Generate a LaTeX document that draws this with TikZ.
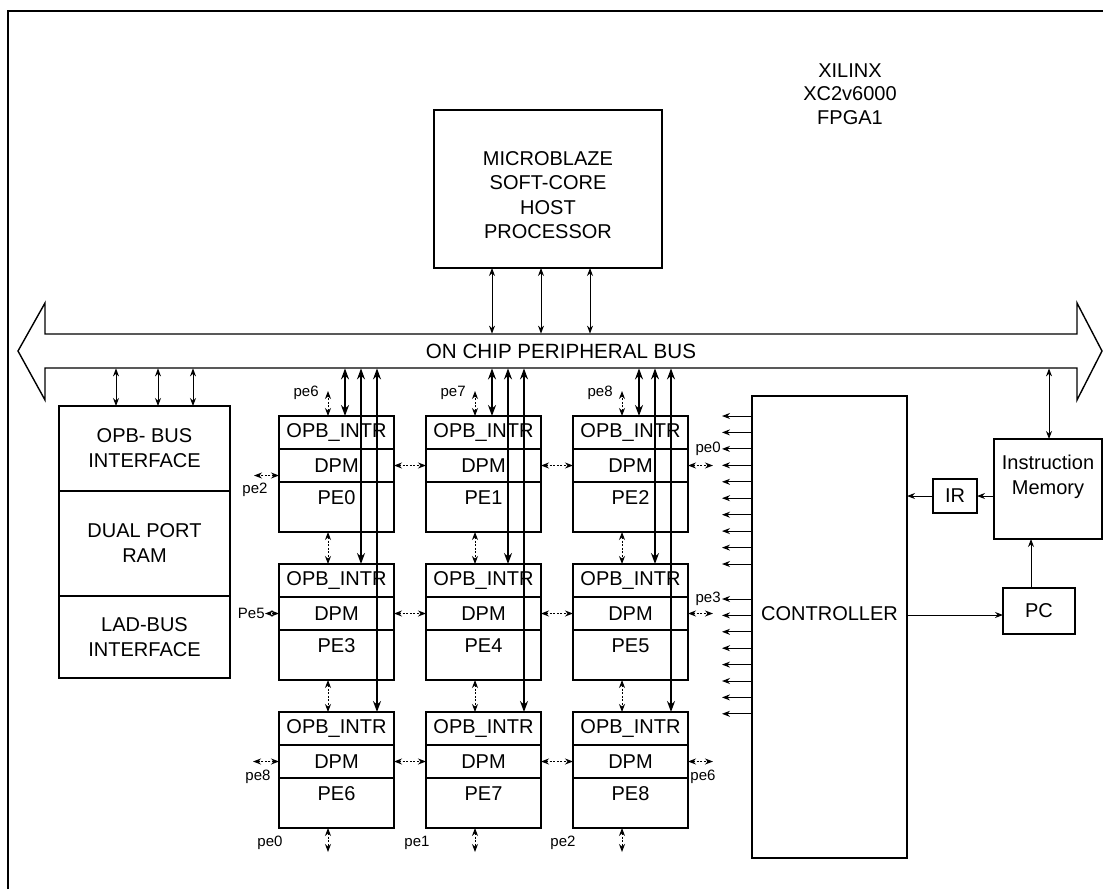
\documentclass[tikz,border=0pt]{standalone}
\usepackage{fontspec}
\setmainfont{Liberation Sans}
\usetikzlibrary{arrows.meta}
\tikzset{
  stt/.tip={Stealth[length=4pt,width=3pt]},
  bgt/.tip={Stealth[length=5.5pt,width=4pt]},
  box/.style={draw, line width=0.7pt, inner sep=0pt, outer sep=0pt, align=center, font=\fontsize{10}{12.5}\selectfont},
  txt/.style={inner sep=0pt, align=center, font=\fontsize{10}{12.5}\selectfont},
  lbl/.style={inner sep=0pt, font=\fontsize{7.5}{9}\selectfont},
  arr/.style={stt-stt, line width=0.5pt},
  sarr/.style={-stt, line width=0.5pt},
  darr/.style={stt-stt, line width=0.5pt, dash pattern=on 1pt off 0.8pt},
  thk/.style={bgt-bgt, line width=1.3pt},
  med/.style={bgt-bgt, line width=0.8pt},
}
\begin{document}
\begin{tikzpicture}[x=0.5pt,y=-0.5pt]
\useasboundingbox (0,0) rectangle (1103,889);
% outer frame
\draw[line width=0.6pt] (8,889) -- (8,11) -- (1103,11);

% bus
\draw[line width=0.7pt] (18,351) -- (45,303) -- (45,334) -- (1077,334) -- (1077,303) -- (1102,351) -- (1077,400) -- (1077,368) -- (45,368) -- (45,400) -- cycle;
\node[txt, minimum width=516pt, minimum height=17pt, font=\fontsize{10.3}{12}\selectfont] (bus) at (561,351) {ON CHIP PERIPHERAL BUS};

% microblaze
\node[box, anchor=north west, minimum width=114pt, minimum height=79pt] (mb) at (434,110) {};
\node[txt, font=\fontsize{10}{12.25}\selectfont] (mbt) at (548,195) {MICROBLAZE\\SOFT-CORE\\HOST\\PROCESSOR};
\foreach \k/\s in {1/29pt,2/53.5pt,3/78pt} {
  \coordinate (m\k) at ([xshift=\s]mb.south west);
  \draw[arr] (m\k) -- (m\k |- bus.north);
}

\node[txt, font=\fontsize{10}{11.75}\selectfont] (xil) at (850,94) {XILINX\\XC2v6000\\FPGA1};

% left block
\node[box, anchor=north west, minimum width=85.5pt, minimum height=42.5pt] (lb1) at (59,406) {OPB- BUS\\INTERFACE};
\node[box, anchor=north, minimum width=85.5pt, minimum height=52.5pt] (lb2) at (lb1.south) {DUAL PORT\\RAM};
\node[box, anchor=north, minimum width=85.5pt, minimum height=41pt] (lb3) at (lb2.south) {LAD-BUS\\INTERFACE};
\foreach \k/\s in {1/28.5pt,2/49.5pt,3/67pt} {
  \coordinate (l\k) at ([xshift=\s]lb1.north west);
  \draw[arr] (l\k |- bus.south) -- (l\k);
}

% PE grid
\foreach \n/\x/\y in {0/279/416, 1/426/416, 2/573/416, 3/279/564, 4/426/564, 5/573/564, 6/279/712, 7/426/712, 8/573/712} {
  \node[box, anchor=north west, minimum width=57.5pt, minimum height=16.5pt] (o\n) at (\x,\y) {OPB\_INTR};
  \node[box, anchor=north, minimum width=57.5pt, minimum height=16.5pt] (d\n) at (o\n.south) {DPM};
  \node[box, anchor=north, minimum width=57.5pt, minimum height=25pt] (p\n) at (d\n.south) {};
  \node[txt] (t\n) at ([yshift=-8pt]d\n.south) {PE\n};
  \coordinate (v\n) at ([xshift=24.5pt]o\n.north west);
  \coordinate (w\n) at ([xshift=24.5pt]p\n.south west);
}

% vertical bus lines
\foreach \c/\m/\k in {0/3/6, 1/4/7, 2/5/8} {
  \coordinate (a\c) at ([xshift=33pt]o\c.north west);
  \coordinate (b\c) at ([xshift=41pt]o\c.north west);
  \coordinate (e\c) at ([xshift=49pt]o\c.north west);
  \draw[thk] (a\c |- bus.south) -- (a\c);
  \draw[med] (b\c |- bus.south) -- (b\c |- o\m.north);
  \draw[med] (e\c |- bus.south) -- (e\c |- o\k.north);
}

% vertical dotted links between rows
\foreach \u/\l in {0/3, 1/4, 2/5, 3/6, 4/7, 5/8} {
  \draw[darr] (w\u) -- (v\l);
}
% top dotted stubs
\foreach \n/\t in {0/pe6, 1/pe7, 2/pe8} {
  \draw[darr] (v\n) -- ++(0,-25) coordinate (tv\n);
  \node[lbl, anchor=east] (tl\n) at ([xshift=-4.5pt,yshift=-1pt]tv\n) {\t};
}
% bottom dotted stubs
\foreach \n/\t/\lx in {6/pe0/270, 7/pe1/417, 8/pe2/563} {
  \draw[darr] (w\n) -- ++(0,24);
  \node[lbl] (bl\n) at (\lx,843) {\t};
}

% horizontal DPM links
\foreach \a/\b in {0/1, 1/2, 3/4, 4/5, 6/7, 7/8} {
  \draw[darr] (d\a.east) -- (d\b.west);
}
% side stubs
\draw[darr] ([yshift=-5pt]d0.west) -- ++(-25,0);
\node[lbl] (s0) at (255,490) {pe2};
\draw[darr] (d3.west) -- ++(-14,0) coordinate (s3c);
\node[lbl, anchor=east] (s3) at (s3c) {Pe5};
\draw[darr] (d6.west) -- ++(-26,0);
\node[lbl] (s6) at (258,777) {pe8};
\draw[darr] (d2.east) -- ++(25,0);
\draw[darr] (d5.east) -- ++(25,0);
\draw[darr] (d8.east) -- ++(25,0);
\node[lbl] (s8) at (703,777) {pe6};

% controller
\node[box, anchor=north west, minimum width=77.5pt, minimum height=231pt] (ctrl) at (752,396) {};
\node[txt] (ctrlt) at (829.5,614) {CONTROLLER};
\foreach \yy in {416,432.4,448.9,465.3,481.8,498.2,514.7,531.1,547.6,564,599,615.4,631.8,648.2,664.6,681,697.4,713.8} {
  \coordinate (cy) at (0,\yy);
  \draw[sarr] (ctrl.west |- cy) -- ++(-30,0);
}
\node[lbl, anchor=east] (pe0l) at (721,449) {pe0};
\node[lbl, anchor=east] (pe3l) at (721,599) {pe3};

% instruction memory, IR, PC
\node[box, anchor=north west, minimum width=54pt, minimum height=50pt] (im) at (994,439) {};
\node[txt] (imt) at (1048,477) {Instruction\\Memory};
\node[box, anchor=north west, minimum width=22pt, minimum height=17pt] (ir) at (933,479) {IR};
\node[box, anchor=north west, minimum width=36pt, minimum height=23pt] (pc) at (1003,588) {PC};
\coordinate (imx) at ([xshift=27.5pt]im.north west);
\draw[arr] (imx |- bus.south) -- (imx);
\draw[sarr] (im.west |- ir.east) -- (ir.east);
\draw[sarr] (ir.west) -- (ir.west -| ctrl.east);
\coordinate (pcy) at (0,615);
\draw[sarr] (ctrl.east |- pcy) -- (pc.west |- pcy);
\coordinate (pcx) at ([xshift=14pt]pc.north west);
\draw[sarr] (pcx) -- (pcx |- im.south);
\end{tikzpicture}
\end{document}
